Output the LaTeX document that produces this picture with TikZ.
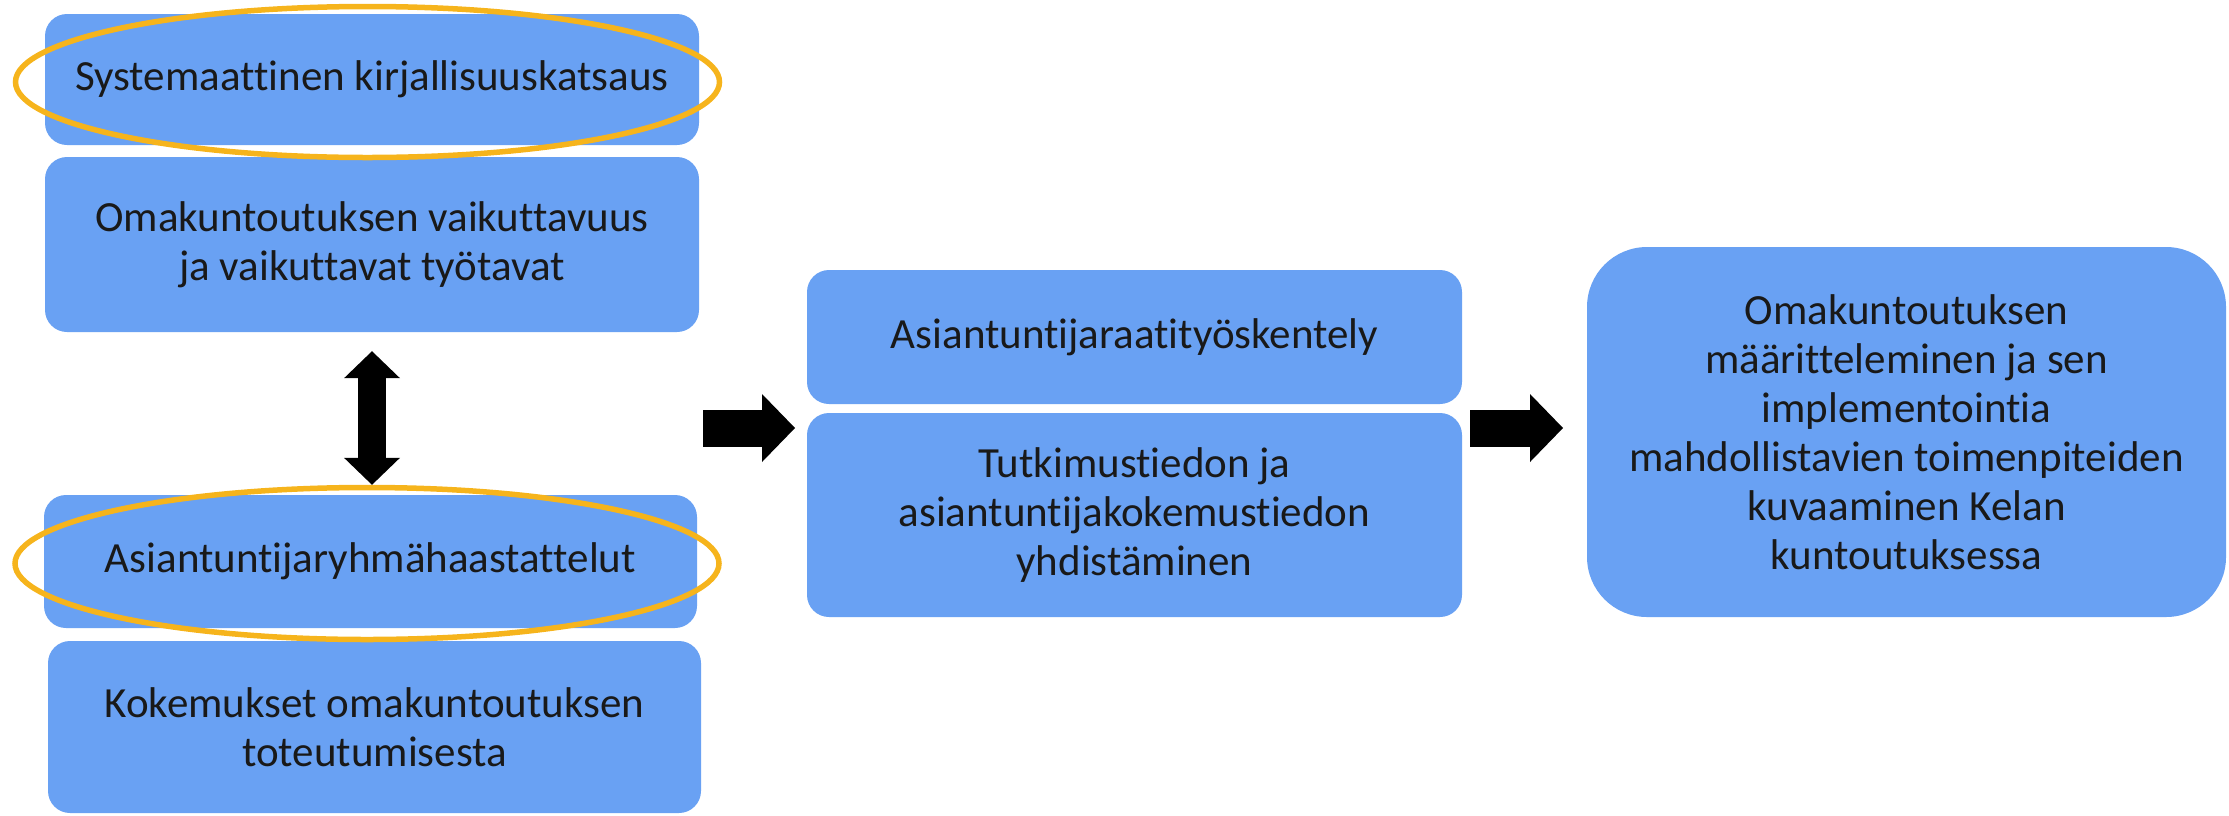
\documentclass[tikz,border=0pt]{standalone}
\usepackage{fontspec}
\setmainfont{Carlito}[Ligatures={NoCommon}]
\usetikzlibrary{arrows.meta,shapes.geometric}
\definecolor{boxblue}{RGB}{105,161,243}
\definecolor{ringorange}{RGB}{246,180,28}
\definecolor{txt}{RGB}{25,25,25}
\tikzset{
  box/.style={rectangle, rounded corners=22pt, fill=boxblue, draw=none, text=txt,
    align=center, inner sep=0pt, font=\fontsize{43}{49}\selectfont},
  bigbox/.style={box, rounded corners=60pt},
  ring/.style={ellipse, draw=ringorange, line width=5.5pt, inner sep=0pt},
  blockarrow/.style={draw=black, line width=37pt,
    -{Triangle[length=33pt,width=68pt,line width=0pt]}},
  dblarrow/.style={draw=black, line width=28pt,
    {Triangle[length=27pt,width=56pt,line width=0pt]}-{Triangle[length=27pt,width=56pt,line width=0pt]}}
}
\begin{document}
\begin{tikzpicture}[x=1pt,y=-1pt]
\useasboundingbox (0,0) rectangle (2229,815);
\node[box, minimum width=654pt, minimum height=131pt] (b1) at (372,79.5) {Systemaattinen kirjallisuuskatsaus};
\node[box, minimum width=654pt, minimum height=175pt] (b2) at (372,244.5) {Omakuntoutuksen vaikuttavuus\\ja vaikuttavat työtavat};
\node[box, minimum width=653pt, minimum height=133pt] (b3) at (370.5,561.5) {Asiantuntijaryhmähaastattelut};
\node[box, minimum width=653pt, minimum height=172pt] (b4) at (374.5,727) {Kokemukset omakuntoutuksen\\toteutumisesta};
\node[box, minimum width=655pt, minimum height=134pt] (b5) at (1134.5,337) {Asiantuntijaraatityöskentely};
\node[box, minimum width=655pt, minimum height=204pt] (b6) at (1134.5,515) {Tutkimustiedon ja\\asiantuntijakokemustiedon\\yhdistäminen};
\node[bigbox, minimum width=639pt, minimum height=370pt] (b7) at (1906.5,432) {Omakuntoutuksen\\määritteleminen ja sen\\implementointia\\mahdollistavien toimenpiteiden\\kuvaaminen Kelan\\kuntoutuksessa};
\node[ring, minimum width=704pt, minimum height=151pt] (e1) at (367.5,82) {};
\node[ring, minimum width=704pt, minimum height=152pt] (e2) at (367,563.5) {};
\draw[dblarrow, shorten <=19pt, shorten >=10pt] (b2.south) -- (b2.south |- b3.north);
\coordinate (a1s) at (703,428);
\coordinate (a1e) at (795,428);
\coordinate (a2s) at (1470,428);
\coordinate (a2e) at (1563,428);
\draw[blockarrow] (a1s) -- (a1e);
\draw[blockarrow] (a2s) -- (a2e);
\end{tikzpicture}
\end{document}
